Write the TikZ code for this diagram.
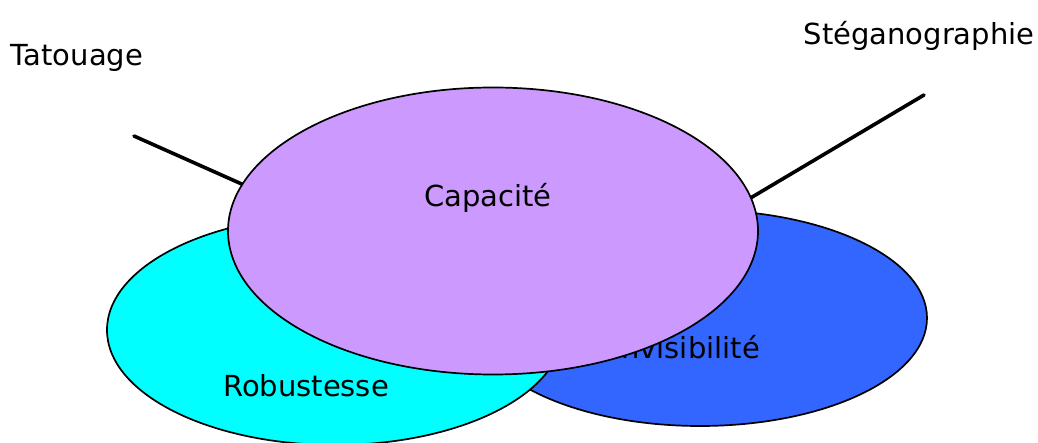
\documentclass[tikz,border=0pt]{standalone}
\usepackage{fontspec}
\setmainfont{DejaVu Sans}
\usetikzlibrary{shapes.geometric}
\definecolor{capcol}{HTML}{CC99FF}
\definecolor{robcol}{HTML}{00FFFF}
\definecolor{invcol}{HTML}{3366FF}
\tikzset{
  blob/.style={ellipse, draw=black, line width=1.7pt, inner sep=0pt},
  word/.style={font=\fontsize{29}{34}\selectfont, inner sep=0pt},
  stem/.style={line width=3.6pt, line cap=round}
}
\begin{document}
\begin{tikzpicture}[x=1pt,y=-1pt]
  \useasboundingbox (0,0) rectangle (1038,443);
  % outer labels and their leader lines
  \node[word] (tat) at (77,58) {Tatouage};
  \node[word] (ste) at (919,36) {Stéganographie};
  \coordinate (tatend) at (134,136);
  \coordinate (steend) at (924,95);
  \coordinate (tatin) at (300,210);
  \coordinate (stein) at (700,228);
  \draw[stem] (tatend) -- (tatin);
  \draw[stem] (steend) -- (stein);
  % three overlapping properties
  \node[blob, fill=invcol, minimum width=454pt, minimum height=216pt] (inv) at (700,318) {};
  \node[word, anchor=east] (invtxt) at (760,347) {Invisibilité};
  \node[blob, fill=robcol, minimum width=456pt, minimum height=230pt] (rob) at (335,330) {};
  \node[word] (robtxt) at (306,386) {Robustesse};
  \node[blob, fill=capcol, minimum width=530pt, minimum height=287pt] (cap) at (493,231) {};
  \node[word] (captxt) at (488,198) {Capacité};
\end{tikzpicture}
\end{document}
